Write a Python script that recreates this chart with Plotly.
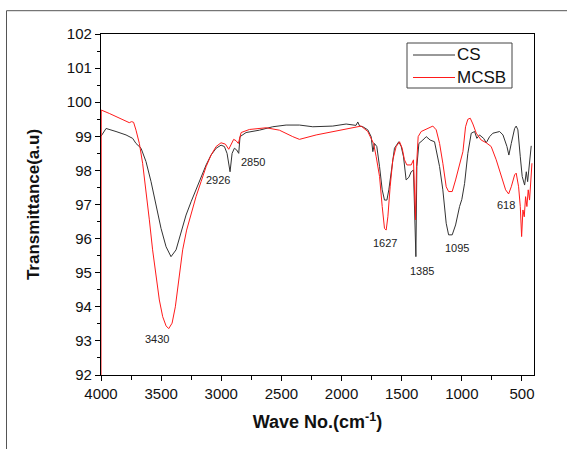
import plotly.graph_objects as go

# ---- data ----
cs_wavenumber = [4000, 3958, 3875, 3792, 3737, 3709, 3667, 3626, 3584, 3542, 3501, 3459, 3418, 3376,
                 3334, 3293, 3251, 3210, 3168, 3126, 3085, 3043, 3002, 2974, 2952, 2927, 2910, 2891,
                 2872, 2855, 2844, 2794, 2683, 2572, 2461, 2350, 2239, 2073, 1962, 1880, 1865, 1850,
                 1823, 1782, 1754, 1740, 1726, 1707, 1684, 1662, 1643, 1623, 1607, 1587, 1560, 1524,
                 1504, 1485, 1463, 1440, 1421, 1402, 1388, 1382, 1374, 1357, 1324, 1296, 1263, 1227,
                 1185, 1158, 1130, 1110, 1080, 1052, 1019, 1000, 977, 950, 922, 894, 875, 853, 819,
                 797, 769, 742, 686, 658, 625, 609, 589, 561, 548, 534, 514, 498, 478, 464, 453, 437,
                 423]
cs_transmittance = [99.0, 99.23, 99.14, 99.04, 98.94, 98.79, 98.65, 98.26, 97.67, 96.99, 96.30, 95.76,
                    95.47, 95.67, 96.16, 96.69, 97.08, 97.43, 97.82, 98.16, 98.45, 98.65, 98.74, 98.70,
                    98.50, 97.96, 98.50, 98.65, 98.60, 98.50, 98.99, 99.11, 99.18, 99.28, 99.33, 99.33,
                    99.28, 99.30, 99.36, 99.32, 99.42, 99.30, 99.28, 99.19, 98.99, 98.55, 98.79, 98.70,
                    98.11, 97.43, 97.13, 97.13, 97.43, 98.01, 98.65, 98.84, 98.70, 98.40, 97.72, 97.80,
                    97.96, 98.01, 96.64, 95.47, 98.11, 98.79, 98.89, 98.99, 98.89, 98.84, 98.11, 97.43,
                    96.45, 96.11, 96.11, 96.40, 96.94, 97.15, 97.62, 98.50, 99.09, 99.14, 98.94, 99.04,
                    98.94, 98.81, 98.99, 99.09, 99.14, 99.04, 98.70, 98.45, 98.79, 99.23, 99.30, 99.19,
                    98.40, 97.82, 97.57, 97.96, 97.67, 98.31, 98.72]

mcsb_wavenumber = [4000, 3998, 3931, 3848, 3765, 3745, 3729, 3709, 3681, 3654, 3626, 3598, 3571, 3542,
                   3515, 3487, 3459, 3437, 3409, 3382, 3348, 3321, 3288, 3251, 3210, 3168, 3126, 3085,
                   3043, 3002, 2966, 2938, 2918, 2897, 2877, 2858, 2835, 2766, 2627, 2517, 2406, 2350,
                   2211, 2073, 1934, 1837, 1782, 1754, 1734, 1712, 1684, 1662, 1643, 1629, 1615, 1596,
                   1574, 1546, 1518, 1496, 1477, 1457, 1421, 1402, 1391, 1385, 1377, 1363, 1338, 1282,
                   1241, 1213, 1185, 1158, 1130, 1110, 1080, 1052, 1019, 1005, 991, 969, 950, 930, 908,
                   880, 839, 797, 756, 714, 672, 636, 611, 589, 561, 548, 528, 514, 503, 492, 481, 470,
                   459, 448, 437, 426, 417]
mcsb_transmittance = [92.0, 99.77, 99.67, 99.53, 99.40, 99.43, 99.41, 99.18, 98.79, 98.21, 97.43, 96.55,
                      95.67, 94.88, 94.20, 93.71, 93.44, 93.36, 93.52, 94.0, 94.88, 95.67, 96.25, 96.74,
                      97.23, 97.67, 98.11, 98.45, 98.70, 98.81, 98.77, 98.62, 98.77, 98.91, 98.87, 98.79,
                      99.11, 99.20, 99.25, 99.18, 98.99, 98.91, 99.04, 99.14, 99.23, 99.30, 99.14, 98.94,
                      98.79, 98.40, 97.82, 96.94, 96.30, 96.25, 96.64, 97.52, 98.31, 98.70, 98.84, 98.65,
                      98.31, 98.16, 98.16, 98.31, 97.13, 96.55, 98.11, 98.99, 99.14, 99.23, 99.30, 99.19,
                      98.79, 98.21, 97.52, 97.38, 97.38, 97.72, 98.21, 98.40, 98.55, 99.28, 99.50, 99.53,
                      99.36, 99.09, 98.89, 98.81, 98.70, 98.31, 97.87, 97.43, 97.31, 97.52, 97.87, 97.92,
                      97.52, 96.94, 96.06, 96.84, 96.64, 97.23, 96.94, 97.43, 97.13, 97.72, 98.21]

series_names = ["CS", "MCSB"]
series_colors = ["#333333", "#ff1a1a"]

peak_labels = ["3430", "2926", "2850", "1627", "1385", "1095", "618"]
peak_label_x = [3537, 3030, 2739, 1637, 1329, 1038, 636]
peak_label_y = [93.05, 97.72, 98.25, 95.88, 95.06, 95.73, 97.0]

x_ticks = [4000, 3500, 3000, 2500, 2000, 1500, 1000, 500]
y_ticks = [92, 93, 94, 95, 96, 97, 98, 99, 100, 101, 102]

FONT = "Arial, Liberation Sans, sans-serif"

L, R, T, B = 101, 33, 34, 74
W, H = 567, 449
pw, ph = W - L - R, H - T - B


def px_x(p):
    return (p - L) / pw


def px_y(p):
    return (H - B - p) / ph


fig = go.Figure()
fig.add_trace(go.Scatter(x=cs_wavenumber, y=cs_transmittance, mode="lines", name=series_names[0],
                         line=dict(color=series_colors[0], width=1), showlegend=False))
fig.add_trace(go.Scatter(x=mcsb_wavenumber, y=mcsb_transmittance, mode="lines", name=series_names[1],
                         line=dict(color=series_colors[1], width=1), showlegend=False))

for t, xv, yv in zip(peak_labels, peak_label_x, peak_label_y):
    fig.add_annotation(x=xv, y=yv, text=t, showarrow=False,
                       font=dict(family=FONT, size=11, color="#222222"))

# outer frame around the figure
fig.add_shape(type="rect", xref="paper", yref="paper",
              x0=px_x(6.5), x1=px_x(600), y0=px_y(480), y1=px_y(10.7),
              line=dict(color="#555555", width=1))

# legend box drawn like the reference
fig.add_shape(type="rect", xref="paper", yref="paper",
              x0=px_x(407), x1=px_x(512), y0=px_y(88), y1=px_y(43),
              line=dict(color="#444444", width=1), fillcolor="white", layer="above")
for i, (name, col) in enumerate(zip(series_names, series_colors)):
    yy = 55 + 22.5 * i
    fig.add_shape(type="line", xref="paper", yref="paper",
                  x0=px_x(413), x1=px_x(455), y0=px_y(yy), y1=px_y(yy),
                  line=dict(color=col, width=1), layer="above")
    fig.add_annotation(xref="paper", yref="paper", x=px_x(455), y=px_y(yy), text=name,
                       showarrow=False, xanchor="left", yanchor="middle",
                       font=dict(family=FONT, size=17, color="#111111"))

fig.update_layout(
    width=W, height=H,
    margin=dict(l=L, r=R, t=T, b=B, autoexpand=False),
    paper_bgcolor="white", plot_bgcolor="white",
    font=dict(family=FONT, color="#111111"),
    showlegend=False,
    xaxis=dict(range=[4000, 400], tickvals=x_ticks, ticktext=[str(v) for v in x_ticks],
               showgrid=False, zeroline=False, showline=True, linecolor="black", linewidth=1.2,
               mirror=True, ticks="outside", ticklen=5, tickwidth=1, tickcolor="black",
               layer="below traces",
               minor=dict(ticks="outside", ticklen=4, dtick=250, tickcolor="black", showgrid=False),
               tickfont=dict(family=FONT, size=15, color="#111111"),
               title=dict(text="<b>Wave No.(cm<sup>-1</sup>)</b>", standoff=14,
                          font=dict(family=FONT, size=18, color="#111111"))),
    yaxis=dict(range=[92, 102], tickvals=y_ticks, ticktext=[str(v) for v in y_ticks],
               showgrid=False, zeroline=False, showline=True, linecolor="black", linewidth=1.2,
               mirror=True, ticks="outside", ticklen=5, tickwidth=1, tickcolor="black",
               layer="below traces",
               minor=dict(ticks="outside", ticklen=3, dtick=0.5, tickcolor="black", showgrid=False),
               tickfont=dict(family=FONT, size=15, color="#111111"),
               title=dict(text="<b>Transmittance(a.u)</b>", standoff=22,
                          font=dict(family=FONT, size=17, color="#111111"))),
)

fig.write_html("out.html")
